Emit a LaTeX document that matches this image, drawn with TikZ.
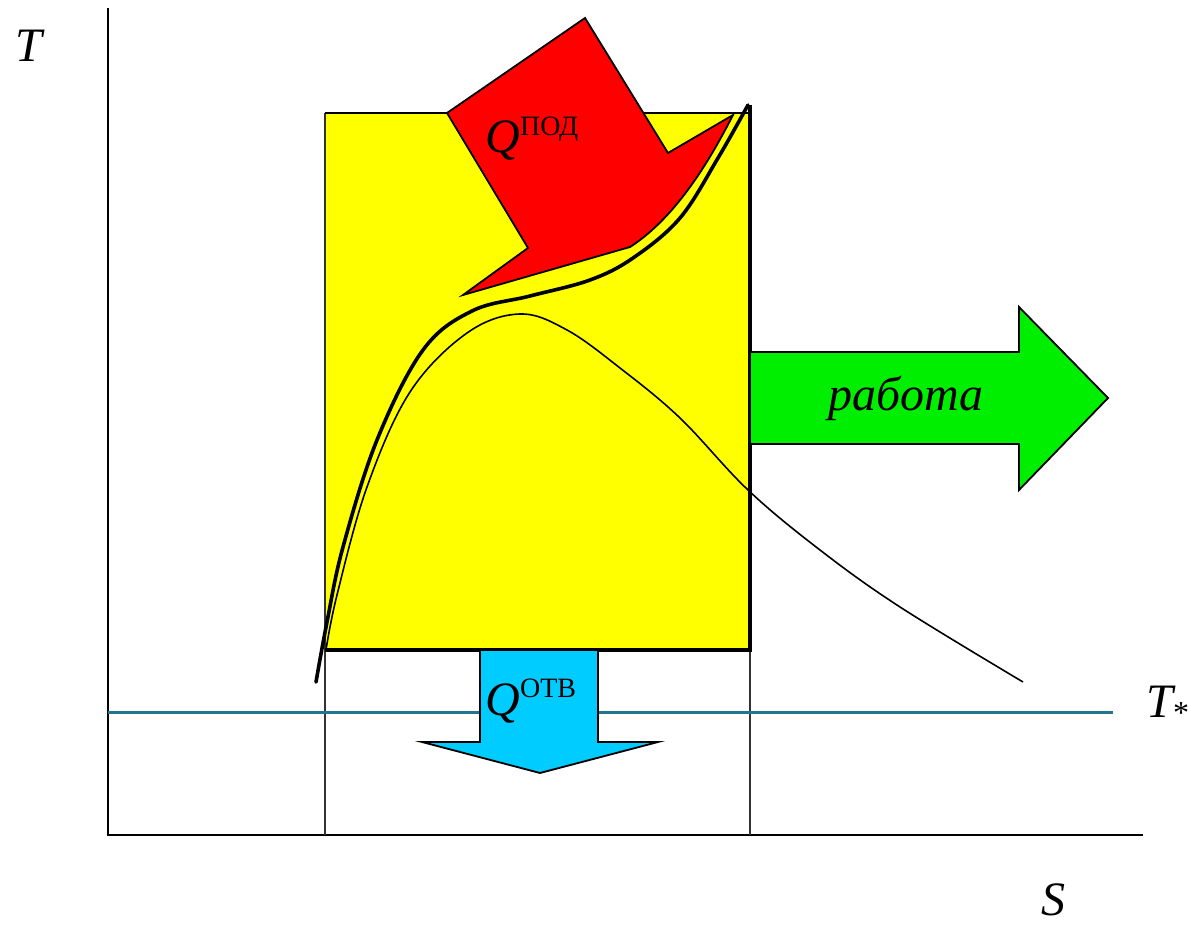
\documentclass[tikz,border=0pt]{standalone}
\usepackage{fontspec}
\setmainfont{Liberation Serif}
\definecolor{boxyellow}{RGB}{255,255,0}
\definecolor{arrred}{RGB}{255,0,0}
\definecolor{arrgreen}{RGB}{0,238,0}
\definecolor{arrblue}{RGB}{0,204,255}
\definecolor{tline}{RGB}{35,115,145}
\tikzset{
  lbl/.style={inner sep=0pt, font=\fontsize{24}{28}\selectfont\itshape},
  axisline/.style={line width=1.4pt, black},
  guide/.style={line width=0.9pt, black!80},
  boldcurve/.style={line width=1.8pt, black, line cap=round},
  thincurve/.style={line width=0.8pt, black},
  blockarrow/.style={draw=black, line width=0.9pt, line join=miter}
}
\newcommand{\supertext}[1]{\raisebox{8.6pt}{\fontsize{14}{14}\selectfont\upshape #1}}
\begin{document}
\begin{tikzpicture}[x=0.5pt,y=-0.5pt]
\fill[white] (0,0) rectangle (1188,925);
\useasboundingbox (0,0) rectangle (1188,925);

% yellow box
\fill[boxyellow] (325,113) rectangle (750,650);

% axes and guides
\draw[axisline] (108,8) -- (108,835) -- (1143,835);
\draw[guide] (325,113) -- (325,835);
\draw[guide] (750,650) -- (750,835);
\draw[tline, line width=1.5pt] (108,712) -- (1113,712);

% curves
\draw[thincurve] plot[smooth, tension=0.6] coordinates {(326,650) (337,595) (367,487) (410,392) (467,333) (520,314) (567,330) (620,368) (680,418) (748,490) (820,550) (900,607) (1023,682)};
\draw[boldcurve] plot[smooth, tension=0.6] coordinates {(316,682) (327,622) (343,547) (377,440) (423,350) (472,311) (530,296) (590,280) (633,258) (680,218) (718,158) (748,105)};

% box edges
\draw[line width=1.3pt] (325,113) -- (750,113);
\draw[line width=2pt] (750,105) -- (750,650) -- (325,650);

% red arrow (heat in)
\draw[blockarrow, fill=arrred] (585,18) -- (668,153) -- (733,115) .. controls (715,150) and (680,215) .. (630,247) -- (463,295) -- (528,248) -- (447,113) -- cycle;

% green arrow (work)
\draw[blockarrow, fill=arrgreen] (751,352) -- (1019,352) -- (1019,307) -- (1108,398) -- (1019,490) -- (1019,444) -- (751,444);

% blue arrow (heat out)
\draw[blockarrow, fill=arrblue] (480,651) -- (480,742) -- (422,742) -- (540,773) -- (658,742) -- (598,742) -- (598,651);

% labels
\node[lbl, anchor=base west] (tlabel) at (15,62) {T};
\node[lbl, anchor=base west] (slabel) at (1041,915) {S};
\node[lbl, anchor=base west] (tstar) at (1146,717) {T\raisebox{-3pt}{\fontsize{16}{16}\selectfont\upshape *}};
\node[lbl, anchor=base west] (qpod) at (485,153) {Q\supertext{ПОД}};
\node[lbl, anchor=base west] (qotv) at (485,715) {Q\supertext{ОТВ}};
\node[lbl, anchor=base] (work) at (906,410) {работа};
\end{tikzpicture}
\end{document}
